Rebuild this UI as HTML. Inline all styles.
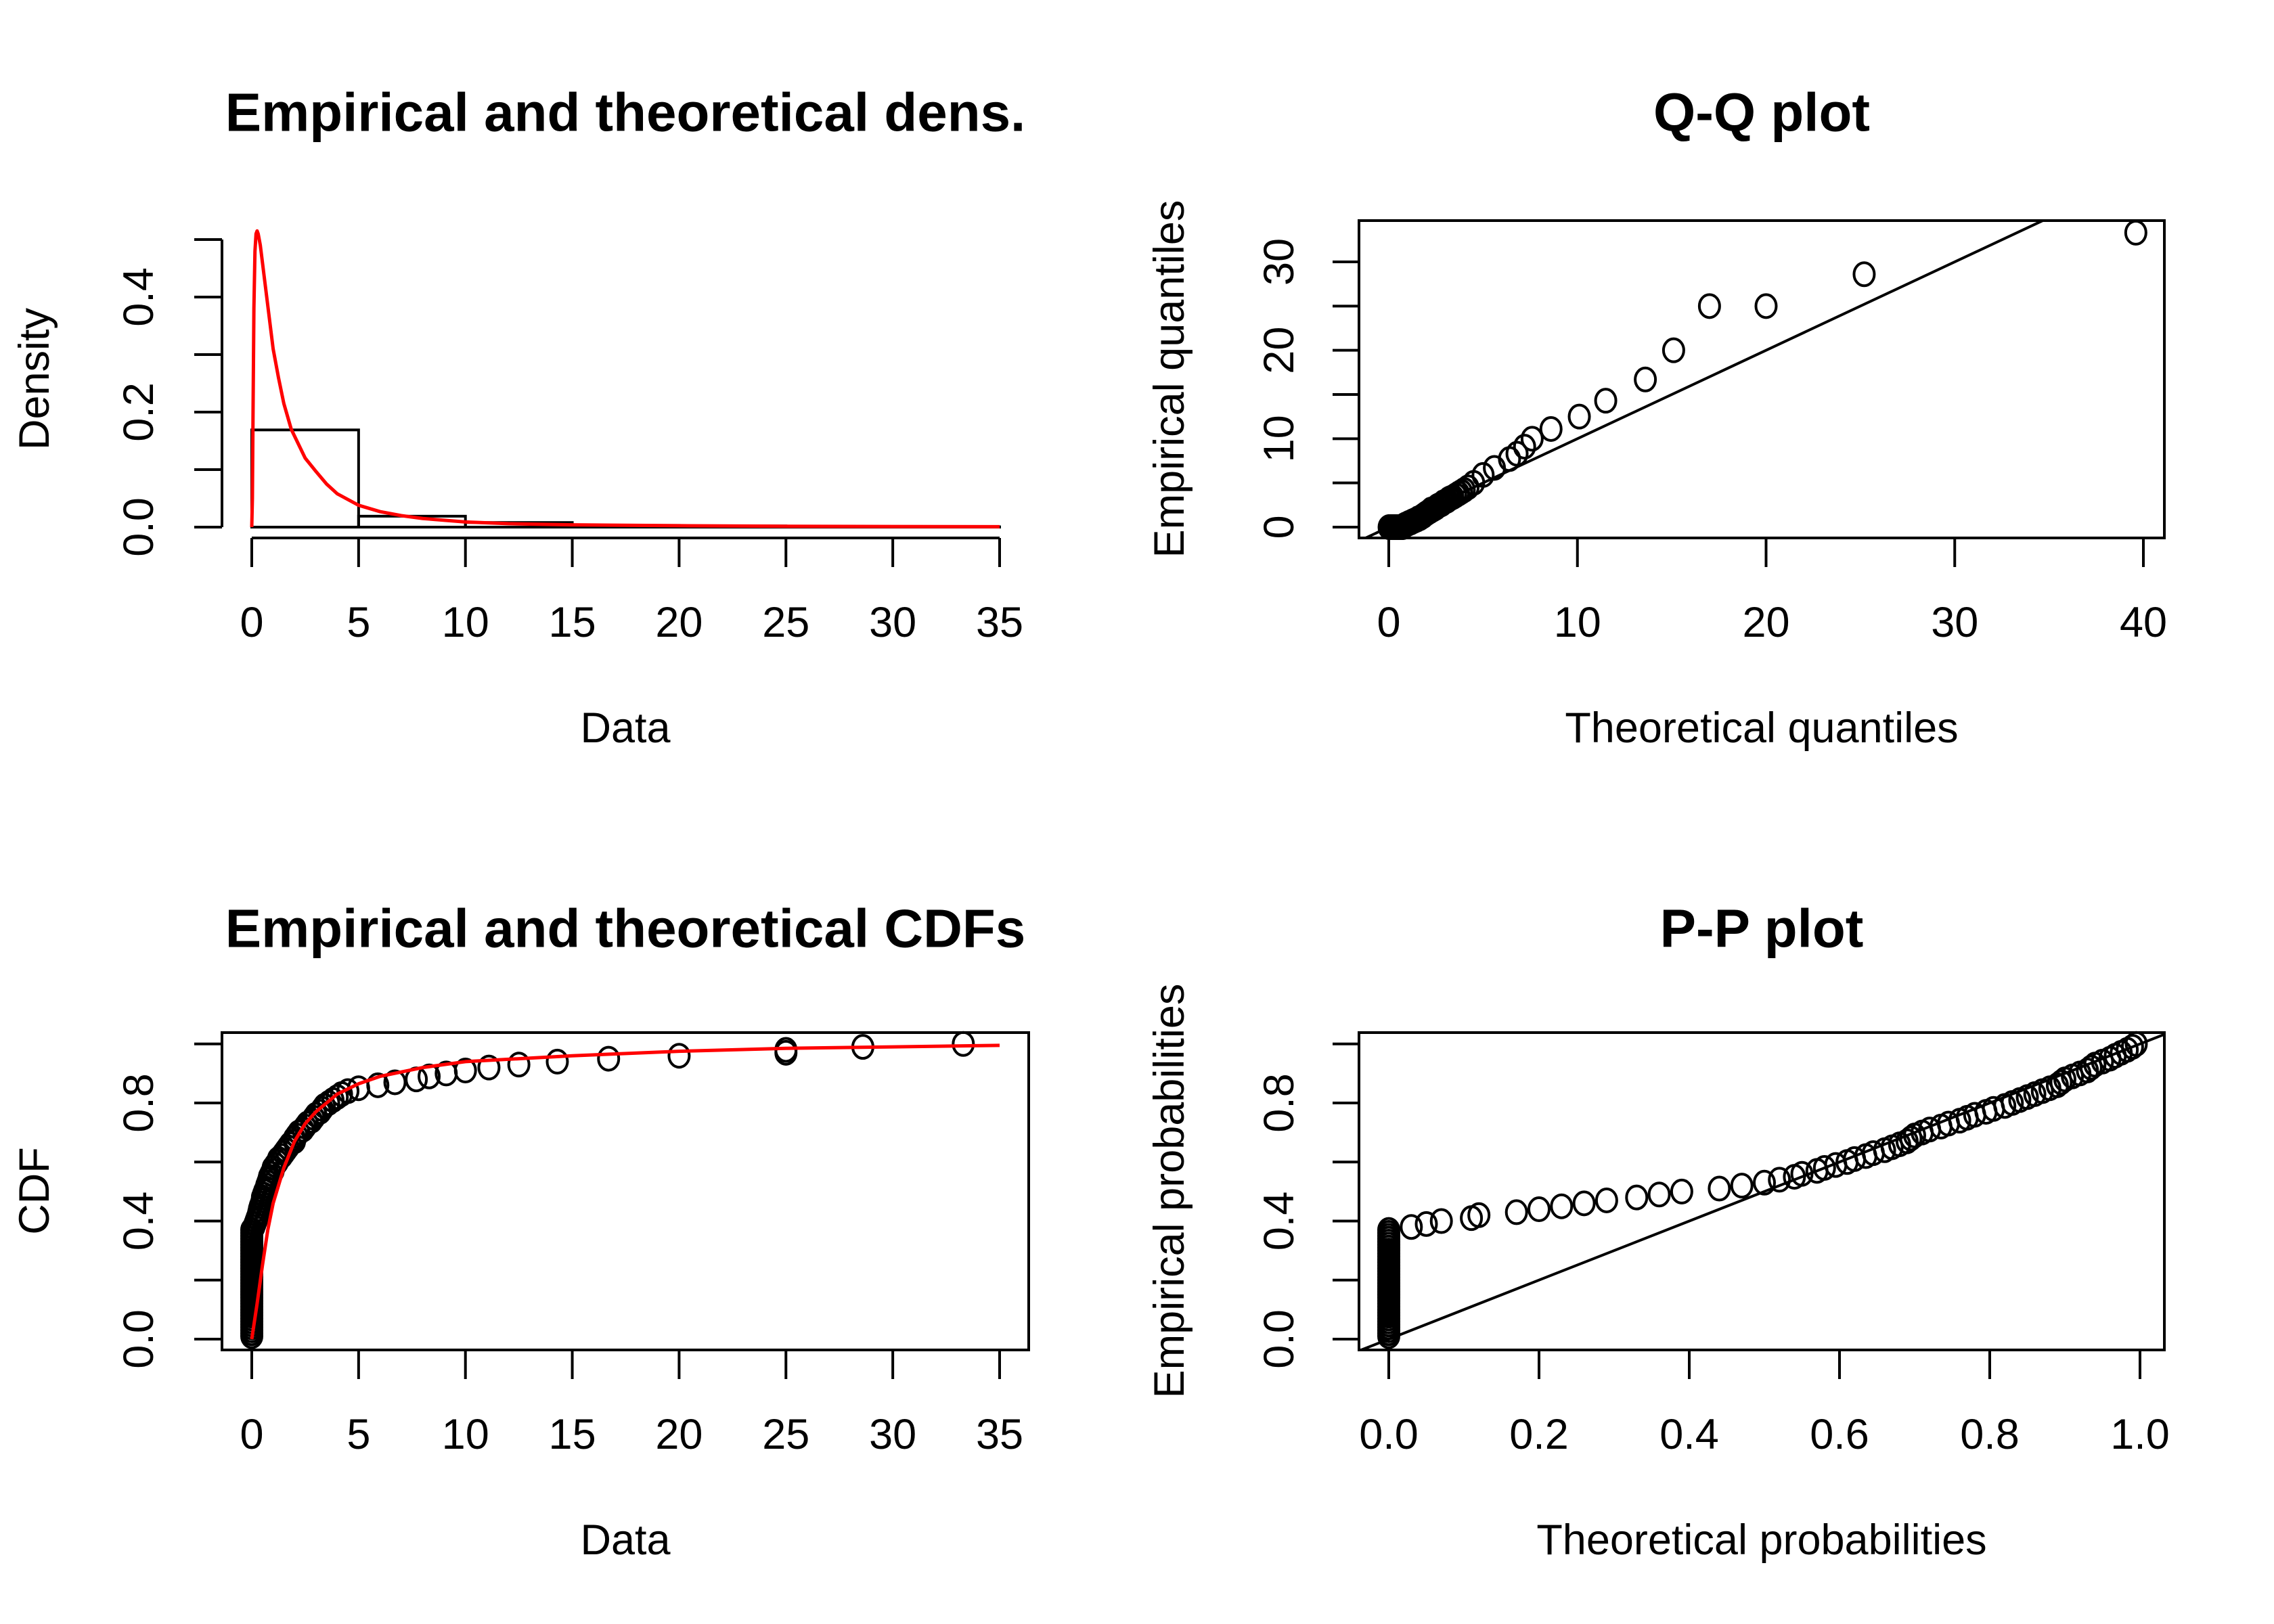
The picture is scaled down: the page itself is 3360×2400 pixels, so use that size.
<!DOCTYPE html>
<html><head><meta charset="utf-8"><style>
html,body{margin:0;padding:0;background:#fff;}
svg{display:block;font-family:"Liberation Sans",Arial,sans-serif;}
</style></head><body>
<svg id="fig" width="3360" height="2400" viewBox="0 0 3360 2400" xmlns="http://www.w3.org/2000/svg">
<rect width="3360" height="2400" fill="#fff"/>
<defs>
<clipPath id="clipQQ"><rect x="2008" y="326" width="1190" height="469"/></clipPath>
<clipPath id="clipPP"><rect x="2008" y="1526" width="1190" height="469"/></clipPath>
</defs>
<g id="root"></g>
</svg>
<script>
// ---- Data ----
const histBreaks = [0,5,10,15,20,25,30,35];
const histDensity = [0.169,0.019,0.008,0.003,0.002,0.0008,0.0005];
const densX = [0,0.03,0.06,0.1,0.15,0.2,0.25,0.3,0.4,0.5,0.6,0.7,0.8,1,1.25,1.5,1.85,2.5,3,3.5,4,5,6,7,8,10,12,15,20,25,30,35];
const densY = [0,0.05,0.2,0.38,0.48,0.51,0.515,0.51,0.49,0.46,0.43,0.4,0.37,0.31,0.26,0.215,0.17,0.12,0.097,0.075,0.058,0.038,0.027,0.02,0.015,0.009,0.006,0.004,0.0025,0.0015,0.001,0.0007];
const cdfX = [0,0.25,0.5,0.75,1,1.5,2,2.5,3,4,5,6,8,10,15,20,25,30,35];
const cdfY = [0,0.12,0.25,0.37,0.46,0.58,0.67,0.73,0.77,0.83,0.865,0.89,0.92,0.94,0.96,0.975,0.985,0.99,0.995];
// sorted sample (empirical values), n = 100
const sampleVals = [0,0,0,0,0,0,0,0,0,0,0,0,0,0,0,0,0,0,0,0,0,0,0,0,0,0,0,0,0,0,0,0,0,0,0,0,0,
 0.1,0.15,0.2,0.25,0.3,0.33,0.36,0.4,0.45,0.5,
 0.5,0.55,0.6,0.67,0.7,0.75,0.8,0.83,0.9,1.0,
 1.0,1.1,1.2,1.25,1.4,1.5,1.6,1.7,1.8,2.0,
 2.0,2.1,2.2,2.4,2.5,2.6,2.8,2.9,3.0,3.2,
 3.3,3.4,3.6,3.8,4.0,4.2,4.5,5.0,5.9,6.7,
 7.7,8.3,9.1,10,11.1,12.5,14.3,16.7,20,25,
 25,28.6,33.3];
// theoretical quantiles for Q-Q
const theoQuant = [0.02,0.04,0.06,0.08,0.1,0.12,0.14,0.16,0.18,0.2,0.22,0.24,0.26,0.28,0.3,0.32,0.34,0.36,0.38,0.4,0.42,0.44,0.46,0.48,0.5,0.52,0.54,0.56,0.58,0.6,0.62,0.64,0.66,0.68,0.7,0.72,0.74,
 0.77,0.8,0.83,0.86,0.9,0.94,0.98,1.02,1.06,1.1,
 1.14,1.18,1.22,1.27,1.32,1.37,1.42,1.47,1.52,1.58,
 1.64,1.7,1.76,1.82,1.89,1.96,2.03,2.1,2.18,2.26,
 2.34,2.42,2.5,2.6,2.7,2.8,2.9,3.0,3.1,3.2,
 3.3,3.4,3.55,3.7,3.85,4.0,4.2,4.5,5.0,5.6,
 6.4,6.8,7.2,7.6,8.6,10.1,11.5,13.6,15.1,17,
 20,25.2,39.6];
// theoretical probabilities for P-P
const theoProb = [0,0,0,0,0,0,0,0,0,0,0,0,0,0,0,0,0,0,0,0,0,0,0,0,0,0,0,0,0,0,0,0,0,0,0,0,0,
 0.03,0.05,0.07,0.11,0.12,0.17,0.2,0.23,0.26,0.29,
 0.33,0.36,0.39,0.44,0.47,0.5,0.52,0.54,0.55,0.57,
 0.58,0.595,0.61,0.62,0.635,0.645,0.66,0.67,0.68,0.69,
 0.695,0.7,0.71,0.72,0.735,0.745,0.76,0.77,0.78,0.795,
 0.805,0.82,0.83,0.84,0.85,0.86,0.87,0.88,0.89,0.895,
 0.9,0.91,0.92,0.93,0.935,0.94,0.95,0.96,0.967,0.975,
 0.983,0.99,0.995];
const ticksHistY=[0,0.1,0.2,0.3,0.4,0.5], labelsHistY=["0.0","0.2","0.4"];
const ticksX35=[0,5,10,15,20,25,30,35];
const ticksQQx=[0,10,20,30,40], ticksQQy=[0,5,10,15,20,25,30], labelsQQy=[0,10,20,30];
const ticksProbY=[0,0.2,0.4,0.6,0.8,1.0], labelsProbY=["0.0","0.4","0.8"];
const ticksPPx=["0.0","0.2","0.4","0.6","0.8","1.0"];

const NS="http://www.w3.org/2000/svg";
const root=document.getElementById('root');
function mk(tag,attrs,parent){const e=document.createElementNS(NS,tag);for(const k in attrs)e.setAttribute(k,attrs[k]);(parent||root).appendChild(e);return e;}
function txt(s,x,y,size,opts,parent){const e=mk('text',{x:x,y:y,'font-size':size,'text-anchor':'middle','dominant-baseline':'central',fill:'#000'},parent);if(opts&&opts.bold)e.setAttribute('font-weight','bold');if(opts&&opts.rot)e.setAttribute('transform','rotate(-90 '+x+' '+y+')');e.textContent=s;return e;}
function lin(d0,d1,r0,r1){return v=>r0+(v-d0)*(r1-r0)/(d1-d0);}
const SW=4, TF=63, TT=80;

// ---------- Panel 1: histogram ----------
{
const g=mk('g',{});


const X=lin(0,35,372,1477), Y=lin(0,0.4,779,439);
txt('Empirical and theoretical dens.',924,166,TT,{bold:true},g);
for(let i=0;i<histDensity.length;i++){
 const r=mk('rect',{x:X(histBreaks[i]),y:Y(histDensity[i]),width:X(histBreaks[i+1])-X(histBreaks[i]),height:Y(0)-Y(histDensity[i]),fill:'none',stroke:'#000','stroke-width':SW},g);
 
 
}
let p=densX.map((x,i)=>X(x)+','+Y(densY[i])).join(' ');
const c=mk('polyline',{points:p,fill:'none',stroke:'#ff0000','stroke-width':5,'stroke-linejoin':'round'},g);


mk('line',{x1:328,y1:Y(0.5),x2:328,y2:Y(0),stroke:'#000','stroke-width':SW},g);
ticksHistY.forEach(t=>mk('line',{x1:287,y1:Y(t),x2:328,y2:Y(t),stroke:'#000','stroke-width':SW},g));
labelsHistY.forEach(l=>txt(l,205,Y(+l),TF,{rot:true},g));
mk('line',{x1:X(0),y1:795,x2:X(35),y2:795,stroke:'#000','stroke-width':SW},g);
ticksX35.forEach(t=>{mk('line',{x1:X(t),y1:795,x2:X(t),y2:838,stroke:'#000','stroke-width':SW},g);txt(String(t),X(t),920,TF,{},g);});
txt('Data',924,1076,TF,{},g);
txt('Density',51,560,TF,{rot:true},g);
}

// ---------- Panel 2: Q-Q ----------
{
const g=mk('g',{});


const X=lin(0,40,2052,3167), Y=lin(0,30,779,387);
txt('Q-Q plot',2603,166,TT,{bold:true},g);
const gl=mk('g',{'clip-path':'url(#clipQQ)'},g);
mk('line',{x1:X(-5),y1:Y(-5),x2:X(45),y2:Y(45),stroke:'#000','stroke-width':SW},gl);
sampleVals.forEach((v,i)=>{const e=mk('ellipse',{cx:X(theoQuant[i]),cy:Y(v),rx:15,ry:17,fill:'none',stroke:'#000','stroke-width':SW},g);
 
 });
mk('rect',{x:2008,y:326,width:1190,height:469,fill:'none',stroke:'#000','stroke-width':SW},g);
ticksQQy.forEach(t=>mk('line',{x1:1969,y1:Y(t),x2:2008,y2:Y(t),stroke:'#000','stroke-width':SW},g));
labelsQQy.forEach(l=>txt(String(l),1890,Y(l),TF,{rot:true},g));
ticksQQx.forEach(t=>{mk('line',{x1:X(t),y1:795,x2:X(t),y2:838,stroke:'#000','stroke-width':SW},g);txt(String(t),X(t),920,TF,{},g);});
txt('Theoretical quantiles',2603,1076,TF,{},g);
txt('Empirical quantiles',1728,560,TF,{rot:true},g);
}

// ---------- Panel 3: CDF ----------
{
const g=mk('g',{});


const X=lin(0,35,372,1477), Y=lin(0,0.8,1979,1630);
const n=sampleVals.length;
txt('Empirical and theoretical CDFs',924,1372,TT,{bold:true},g);
sampleVals.forEach((v,i)=>{const e=mk('ellipse',{cx:X(v),cy:Y((i+1)/n),rx:15,ry:17,fill:'none',stroke:'#000','stroke-width':SW},g);
 
 });
const c=mk('polyline',{points:cdfX.map((x,i)=>X(x)+','+Y(cdfY[i])).join(' '),fill:'none',stroke:'#ff0000','stroke-width':5,'stroke-linejoin':'round'},g);


mk('rect',{x:328,y:1526,width:1192,height:469,fill:'none',stroke:'#000','stroke-width':SW},g);
ticksProbY.forEach(t=>mk('line',{x1:287,y1:Y(t),x2:328,y2:Y(t),stroke:'#000','stroke-width':SW},g));
labelsProbY.forEach(l=>txt(l,205,Y(+l),TF,{rot:true},g));
ticksX35.forEach(t=>{mk('line',{x1:X(t),y1:1995,x2:X(t),y2:2038,stroke:'#000','stroke-width':SW},g);txt(String(t),X(t),2120,TF,{},g);});
txt('Data',924,2276,TF,{},g);
txt('CDF',51,1760,TF,{rot:true},g);
}

// ---------- Panel 4: P-P ----------
{
const g=mk('g',{});


const X=lin(0,1,2052,3162), Y=lin(0,0.8,1979,1630);
const n=sampleVals.length;
txt('P-P plot',2603,1372,TT,{bold:true},g);
const gl=mk('g',{'clip-path':'url(#clipPP)'},g);
mk('line',{x1:X(-0.2),y1:Y(-0.2),x2:X(1.2),y2:Y(1.2),stroke:'#000','stroke-width':SW},gl);
theoProb.forEach((v,i)=>{const e=mk('ellipse',{cx:X(v),cy:Y((i+1)/n),rx:15,ry:17,fill:'none',stroke:'#000','stroke-width':SW},g);
 
 });
mk('rect',{x:2008,y:1526,width:1190,height:469,fill:'none',stroke:'#000','stroke-width':SW},g);
ticksProbY.forEach(t=>mk('line',{x1:1969,y1:Y(t),x2:2008,y2:Y(t),stroke:'#000','stroke-width':SW},g));
labelsProbY.forEach(l=>txt(l,1890,Y(+l),TF,{rot:true},g));
ticksPPx.forEach(l=>{mk('line',{x1:X(+l),y1:1995,x2:X(+l),y2:2038,stroke:'#000','stroke-width':SW},g);txt(l,X(+l),2120,TF,{},g);});
txt('Theoretical probabilities',2603,2276,TF,{},g);
txt('Empirical probabilities',1728,1760,TF,{rot:true},g);
}
</script>
</body></html>
